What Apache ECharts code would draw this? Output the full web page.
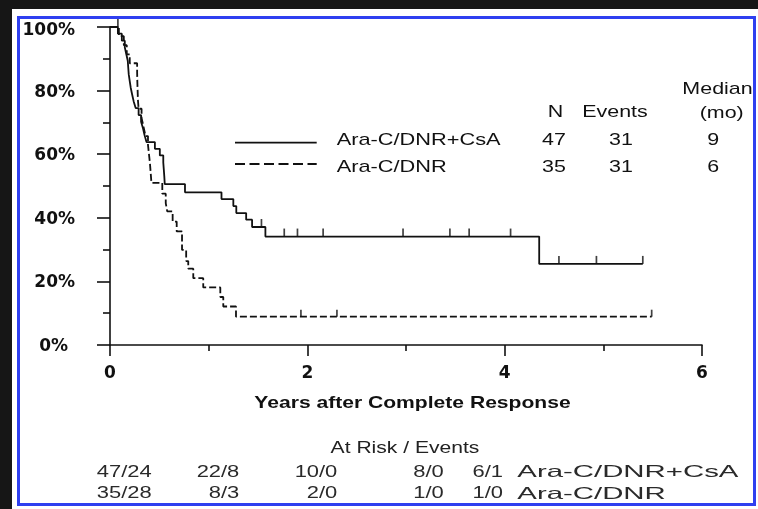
<!DOCTYPE html>
<html>
<head>
<meta charset="utf-8">
<script src="https://cdn.jsdelivr.net/npm/echarts@6/dist/echarts.min.js"></script>
<style>
  html, body { margin: 0; padding: 0; background: #161616; }
  #wrap { position: relative; width: 758px; height: 509px; overflow: hidden; background: #161616; }
  #paper { position: absolute; left: 12px; top: 9px; width: 746px; height: 500px; background: #ffffff; }
  #frame { position: absolute; left: 17px; top: 16px; width: 739px; height: 490px; box-sizing: border-box; border: 3px solid #2f3ff0; }
  #chart { position: absolute; left: 0; top: 0; width: 758px; height: 509px; }
</style>
</head>
<body>
<div id="wrap">
  <div id="paper"></div>
  <div id="frame"></div>
  <div id="chart"></div>
</div>
<script>
// Kaplan-Meier estimates: time (years) and survival (%) after each drop
const csaTime = [0, 0.08, 0.12, 0.15, 0.165, 0.18, 0.185, 0.19, 0.20, 0.21, 0.225, 0.24, 0.26, 0.29, 0.315, 0.335, 0.35, 0.37,
                 0.455, 0.505, 0.54, 0.545, 0.55, 0.555, 0.76, 1.13, 1.25, 1.28, 1.38, 1.44, 1.575, 4.35, 5.40];
const csaSurv = [100, 97.9, 95.7, 93.6, 91.5, 89.4, 87.2, 85.1, 83.0, 80.9, 78.7, 76.6, 74.5, 72.3, 70.2, 68.1, 66.0, 63.8,
                 61.7, 59.6, 57.4, 55.3, 53.2, 50.6, 48.0, 45.9, 43.7, 41.5, 39.4, 37.1, 34.1, 25.5, 25.5];
const csaCensTime = [0.08, 1.535, 1.766, 1.90, 2.16, 2.97, 3.445, 3.64, 4.06, 4.55, 4.93, 5.40];
const csaCensSurv = [100, 37.1, 34.1, 34.1, 34.1, 34.1, 34.1, 34.1, 34.1, 25.5, 25.5, 25.5];

const ctlTime = [0, 0.09, 0.14, 0.17, 0.20, 0.275, 0.277, 0.28, 0.283, 0.29, 0.32, 0.34, 0.36, 0.385, 0.395, 0.405, 0.412, 0.42,
                 0.53, 0.565, 0.58, 0.635, 0.676, 0.73, 0.772, 0.793, 0.844, 0.945, 1.118, 1.148, 1.277, 5.49];
const ctlSurv = [100, 97.1, 94.3, 91.4, 88.6, 85.7, 82.9, 80.0, 77.1, 74.3, 71.4, 68.6, 65.7, 62.9, 60.0, 57.1, 54.3, 51.0,
                 47.6, 44.6, 42.0, 38.8, 35.7, 29.9, 26.4, 24.0, 21.0, 18.1, 15.1, 12.1, 8.9, 8.9];
const ctlCensTime = [1.935, 2.30, 5.49];
const ctlCensSurv = [8.9, 8.9, 8.9];

// Summary table
const groupNames = ['Ara-C/DNR+CsA', 'Ara-C/DNR'];
const groupN = [47, 35];
const groupEvents = [31, 31];
const groupMedian = [9, 6];

// At risk / events per year
const riskCsa = ['47/24', '22/8', '10/0', '8/0', '6/1'];
const riskCtl = ['35/28', '8/3', '2/0', '1/0', '1/0'];

const INK = '#111111';
const zip = (a, b) => a.map((v, i) => [v, b[i]]);

function label(str, x, y, o) {
  o = o || {};
  return {
    type: 'text', x: x, y: y, scaleX: o.sx || 1.26, silent: true,
    style: {
      text: String(str),
      fontFamily: o.family || 'Liberation Sans',
      fontSize: o.size || 17,
      fontWeight: o.weight || 'normal',
      fill: o.color || INK,
      align: o.align || 'center',
      verticalAlign: 'middle'
    }
  };
}

const graphics = [];
// legend samples
graphics.push({ type: 'line', silent: true, shape: { x1: 235, y1: 142.7, x2: 316.7, y2: 142.7 },
  style: { stroke: INK, lineWidth: 1.8 } });
graphics.push({ type: 'line', silent: true, shape: { x1: 235, y1: 164, x2: 316.7, y2: 164 },
  style: { stroke: INK, lineWidth: 1.8, lineDash: [10, 4.5] } });
// summary table
graphics.push(label('Median', 717.5, 89));
graphics.push(label('(mo)', 721.7, 113.5));
graphics.push(label('N', 555.5, 112.5));
graphics.push(label('Events', 615, 112.5));
const rowY = [140.5, 167.5];
groupNames.forEach((g, i) => {
  graphics.push(label(g, 336.7, rowY[i], { align: 'left', sx: 1.28 }));
  graphics.push(label(groupN[i], 554, rowY[i]));
  graphics.push(label(groupEvents[i], 621, rowY[i]));
  graphics.push(label(groupMedian[i], 713.3, rowY[i]));
});
// axis title and at-risk table
graphics.push(label('Years after Complete Response', 412.5, 403.5, { weight: 'bold', sx: 1.24 }));
graphics.push(label('At Risk / Events', 405, 448.5, { sx: 1.24, color: '#222' }));
const riskRight = [151.7, 239.3, 337.3, 443.7, 503];
const riskY = [472.5, 494];
[riskCsa, riskCtl].forEach((row, r) => {
  row.forEach((v, i) => {
    graphics.push(label(v, riskRight[i], riskY[r], { align: 'right', size: 16, sx: 1.37, color: '#2a2a2a' }));
  });
  graphics.push(label(groupNames[r], 517.3, riskY[r], { align: 'left', size: 16.5, sx: 1.78, color: '#2a2a2a' }));
});

const chart = echarts.init(document.getElementById('chart'), null, { renderer: 'canvas', width: 758, height: 509 });
const axisLine = { show: true, onZero: false, lineStyle: { color: INK, width: 1.6 } };
const tickStyle = { color: INK, width: 1.6 };
const axisFont = { fontFamily: 'DejaVu Sans', fontWeight: 'bold', fontSize: 17, color: INK };

chart.setOption({
  backgroundColor: 'transparent',
  animation: false,
  grid: { left: 110, top: 27, width: 592, height: 318, containLabel: false },
  xAxis: {
    type: 'value', min: 0, max: 6, interval: 2,
    axisLine: axisLine,
    axisTick: { show: true, length: 11, lineStyle: tickStyle },
    minorTick: { show: true, splitNumber: 2, length: 6, lineStyle: tickStyle },
    splitLine: { show: false },
    axisLabel: Object.assign({ margin: 20 }, axisFont)
  },
  yAxis: {
    type: 'value', min: 0, max: 100, interval: 20,
    axisLine: axisLine,
    axisTick: { show: true, length: 13, lineStyle: tickStyle },
    minorTick: { show: true, splitNumber: 2, length: 7, lineStyle: tickStyle },
    splitLine: { show: false },
    axisLabel: Object.assign({
      margin: 35,
      formatter: v => v === 0 ? '{z|0%}' : (v === 100 ? '{t|100%}' : '{n|' + v + '%}'),
      rich: {
        z: Object.assign({ padding: [3, 7, 0, 0] }, axisFont),
        t: Object.assign({ padding: [8, 0, 0, 0] }, axisFont),
        n: Object.assign({ padding: [3, 0, 0, 0] }, axisFont)
      }
    }, axisFont)
  },
  series: [
    {
      name: 'Ara-C/DNR+CsA', type: 'line', step: 'end', symbol: 'none', clip: false,
      data: zip(csaTime, csaSurv),
      lineStyle: { color: INK, width: 1.8 }
    },
    {
      name: 'Ara-C/DNR', type: 'line', step: 'end', symbol: 'none', clip: false,
      data: zip(ctlTime, ctlSurv),
      lineStyle: { color: INK, width: 1.8, type: [7, 3] }
    },
    {
      type: 'scatter', clip: false, symbol: 'rect', symbolSize: [1.7, 8], symbolOffset: [0, -4],
      data: zip(csaCensTime, csaCensSurv), itemStyle: { color: INK }
    },
    {
      type: 'scatter', clip: false, symbol: 'rect', symbolSize: [1.7, 7], symbolOffset: [0, -3.5],
      data: zip(ctlCensTime, ctlCensSurv), itemStyle: { color: INK }
    }
  ],
  graphic: graphics
});
</script>
</body>
</html>
